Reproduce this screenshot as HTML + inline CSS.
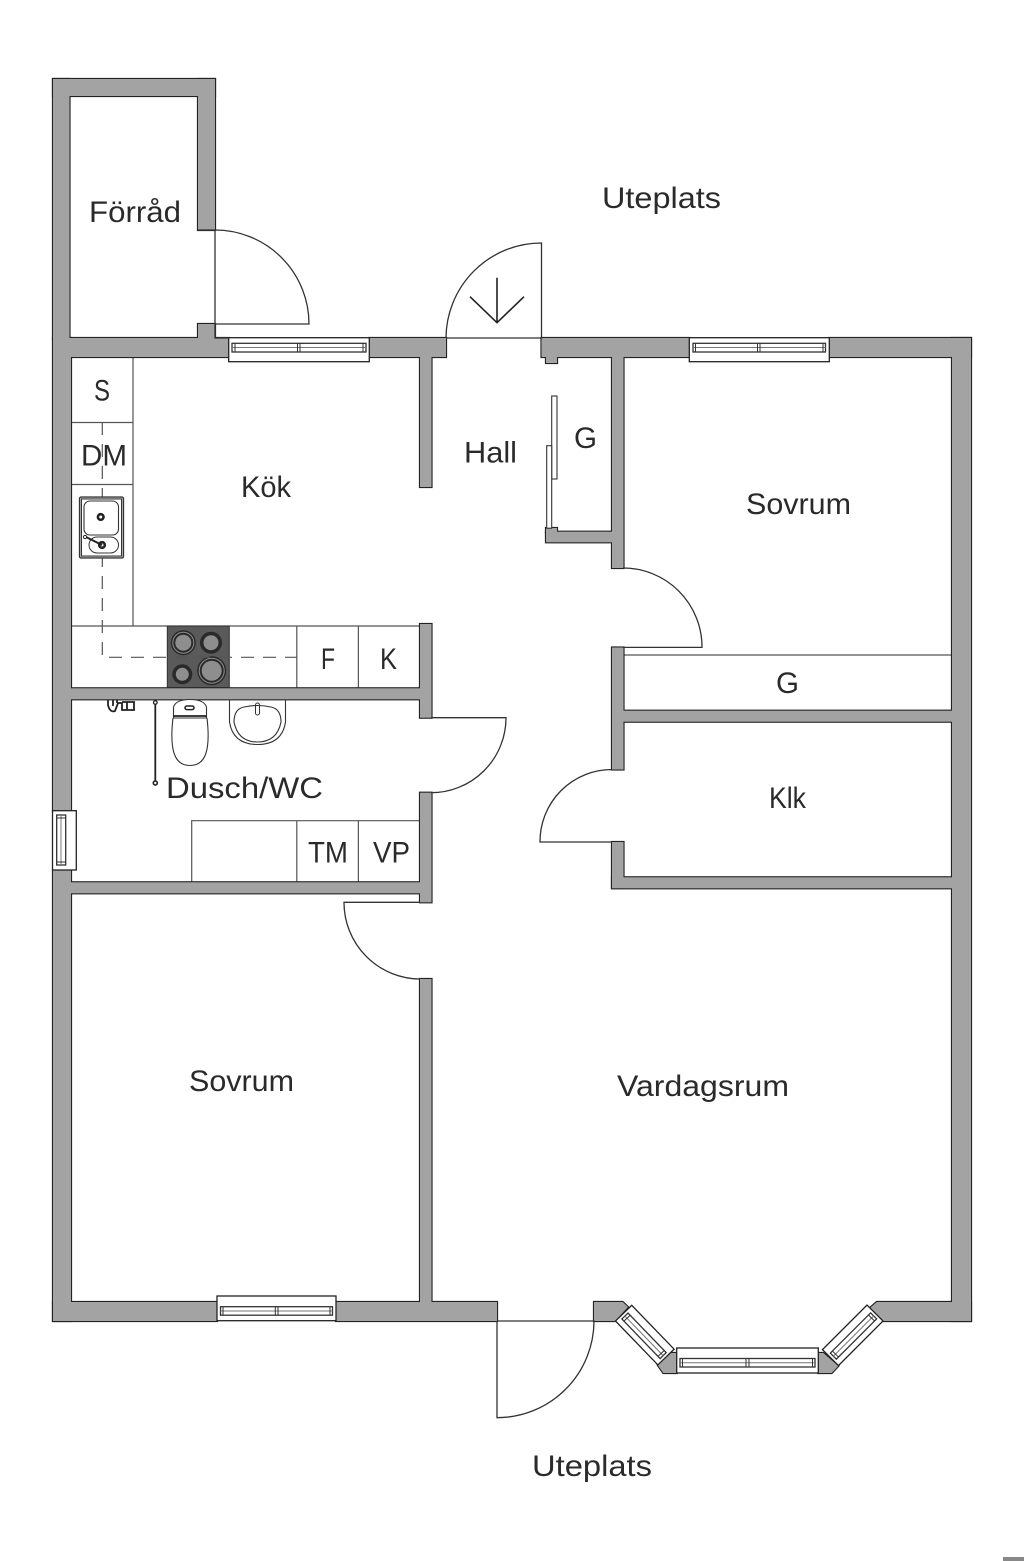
<!DOCTYPE html>
<html lang="sv">
<head>
<meta charset="utf-8">
<title>Planritning</title>
<style>
html,body{margin:0;padding:0;background:#fff;}
svg{display:block;}
text{font-family:"Liberation Sans",sans-serif;font-size:30px;fill:#2a2a2a;}
</style>
</head>
<body>
<svg xmlns="http://www.w3.org/2000/svg" width="1024" height="1561" viewBox="0 0 1024 1561">
<rect width="1024" height="1561" fill="#fff"/>
<rect x="1003" y="1557" width="21" height="4" fill="#888"/>

<!-- counters -->
<g fill="none" stroke="#555" stroke-width="1.2">
  <path d="M133 357V626M71 422.5H133M71 484.5H133M71 626H420M296.8 626V688M358.4 626V688"/>
  <path d="M191.7 882V820.7H420M296.8 820.7V882M358.4 820.7V882"/>
  <path d="M623 655H952"/>
</g>

<!-- hob -->
<rect x="167.3" y="626" width="62" height="62" fill="#5a5a5a" stroke="#333"/>
<g fill="#2a2a2a" stroke="none">
  <circle cx="183.3" cy="642.7" r="12.5"/>
  <circle cx="211" cy="642.7" r="11"/>
  <circle cx="182.3" cy="674.3" r="10"/>
  <circle cx="211.7" cy="670.7" r="14.5"/>
</g>
<g fill="none" stroke="#8e8e8e" stroke-width="1">
  <circle cx="183.3" cy="642.7" r="10.5"/>
  <circle cx="211.7" cy="670.7" r="12.5"/>
</g>
<g fill="#8e8e8e" stroke="none">
  <circle cx="183.3" cy="642.7" r="8"/>
  <circle cx="211" cy="642.7" r="7.5"/>
  <circle cx="182.3" cy="674.3" r="6.5"/>
  <circle cx="211.7" cy="670.7" r="10"/>
</g>
<path d="M102.3 422V657.3H297" fill="none" stroke="#555" stroke-width="1.2" stroke-dasharray="13 9"/>

<!-- walls: outline layer -->
<g fill="#a3a3a3" stroke="#222" stroke-width="2.2" stroke-linejoin="miter">
  <rect x="53" y="79" width="16.5" height="260"/>
  <rect x="53" y="79" width="162" height="17"/>
  <rect x="198" y="79" width="17" height="151"/>
  <rect x="198" y="324" width="17" height="14"/>
  <rect x="53" y="338" width="18" height="473"/>
  <rect x="53" y="870" width="18" height="451"/>
  <rect x="69" y="338" width="160" height="19"/>
  <rect x="369" y="338" width="77" height="19"/>
  <rect x="420" y="357" width="11.5" height="130"/>
  <rect x="541.5" y="338" width="148" height="19"/>
  <rect x="546" y="357" width="11" height="6"/>
  <rect x="829" y="338" width="142" height="19"/>
  <rect x="952" y="338" width="19" height="983"/>
  <rect x="612" y="357" width="11.5" height="211"/>
  <rect x="546" y="531.7" width="66" height="10.6"/>
  <rect x="546" y="528" width="11" height="5"/>
  <rect x="612" y="647.5" width="11.5" height="122"/>
  <rect x="612" y="842" width="11.5" height="46"/>
  <rect x="623" y="710.7" width="329" height="11"/>
  <rect x="612" y="877.3" width="340" height="11"/>
  <rect x="71" y="688.3" width="349" height="11"/>
  <rect x="420" y="624" width="11.5" height="93.7"/>
  <rect x="420" y="792.7" width="11.5" height="109.6"/>
  <rect x="71" y="882.3" width="349" height="11"/>
  <rect x="420" y="979" width="11.5" height="323"/>
  <rect x="53" y="1302" width="164" height="19"/>
  <rect x="336" y="1302" width="161" height="19"/>
  <polygon points="594,1302 622.7,1302 628,1307 615,1321 594,1321"/>
  <polygon points="668,1353 676.7,1353 676.7,1373 663.3,1373 657.7,1365"/>
  <polygon points="818.3,1353 823.3,1353 838.3,1366 831.7,1373 818.3,1373"/>
  <polygon points="870,1308 876.7,1302 971,1302 971,1321 883.3,1321"/>
</g>
<!-- walls: fill layer to merge junctions -->
<g fill="#a3a3a3">
  <rect x="53" y="79" width="16.5" height="260"/>
  <rect x="53" y="79" width="162" height="17"/>
  <rect x="198" y="79" width="17" height="151"/>
  <rect x="198" y="324" width="17" height="14"/>
  <rect x="53" y="338" width="18" height="473"/>
  <rect x="53" y="870" width="18" height="451"/>
  <rect x="69" y="338" width="160" height="19"/>
  <rect x="369" y="338" width="77" height="19"/>
  <rect x="420" y="357" width="11.5" height="130"/>
  <rect x="541.5" y="338" width="148" height="19"/>
  <rect x="546" y="357" width="11" height="6"/>
  <rect x="829" y="338" width="142" height="19"/>
  <rect x="952" y="338" width="19" height="983"/>
  <rect x="612" y="357" width="11.5" height="211"/>
  <rect x="546" y="531.7" width="66" height="10.6"/>
  <rect x="546" y="528" width="11" height="5"/>
  <rect x="612" y="647.5" width="11.5" height="122"/>
  <rect x="612" y="842" width="11.5" height="46"/>
  <rect x="623" y="710.7" width="329" height="11"/>
  <rect x="612" y="877.3" width="340" height="11"/>
  <rect x="71" y="688.3" width="349" height="11"/>
  <rect x="420" y="624" width="11.5" height="93.7"/>
  <rect x="420" y="792.7" width="11.5" height="109.6"/>
  <rect x="71" y="882.3" width="349" height="11"/>
  <rect x="420" y="979" width="11.5" height="323"/>
  <rect x="53" y="1302" width="164" height="19"/>
  <rect x="336" y="1302" width="161" height="19"/>
  <polygon points="594,1302 622.7,1302 628,1307 615,1321 594,1321"/>
  <polygon points="668,1353 676.7,1353 676.7,1373 663.3,1373 657.7,1365"/>
  <polygon points="818.3,1353 823.3,1353 838.3,1366 831.7,1373 818.3,1373"/>
  <polygon points="870,1308 876.7,1302 971,1302 971,1321 883.3,1321"/>
</g>

<!-- windows -->
<g fill="#fff" stroke="#222" stroke-width="1.3">
  <!-- kitchen -->
  <rect x="228.7" y="337.7" width="140.6" height="24"/>
  <rect x="232" y="343.3" width="134" height="8.7" stroke="#333"/>
  <path d="M232 347.5H366" fill="none" stroke="#777" stroke-width="1"/>
  <path d="M297.5 343.3V352M300 343.3V352M235 343.3V352M363 343.3V352" fill="none" stroke="#333" stroke-width="1"/>
  <!-- bedroom NE -->
  <rect x="689.3" y="337.7" width="140" height="24"/>
  <rect x="693" y="343.3" width="132.5" height="8.7" stroke="#333"/>
  <path d="M693 347.5H825.5" fill="none" stroke="#777" stroke-width="1"/>
  <path d="M757.5 343.3V352M760 343.3V352M695.5 343.3V352M823 343.3V352" fill="none" stroke="#333" stroke-width="1"/>
  <!-- bedroom SW -->
  <rect x="217" y="1296" width="119" height="24.7"/>
  <rect x="220.5" y="1306.7" width="112" height="8.5" stroke="#333"/>
  <path d="M220.5 1311H332.5" fill="none" stroke="#777" stroke-width="1"/>
  <path d="M275.3 1306.7V1315.2M278 1306.7V1315.2M223 1306.7V1315.2M330 1306.7V1315.2" fill="none" stroke="#333" stroke-width="1"/>
  <!-- bath west -->
  <rect x="52.5" y="810.7" width="23.8" height="59.3"/>
  <rect x="56.7" y="815" width="9" height="50" stroke="#333"/>
  <path d="M61 815V865" fill="none" stroke="#777" stroke-width="1"/>
  <path d="M56.7 818H65.7M56.7 862H65.7" fill="none" stroke="#333" stroke-width="1"/>
  <!-- bay centre -->
  <rect x="676.7" y="1348" width="141.6" height="25"/>
  <rect x="680" y="1358.5" width="135" height="8.5" stroke="#333"/>
  <path d="M680 1362.7H815" fill="none" stroke="#777" stroke-width="1"/>
  <path d="M746 1358.5V1367M749 1358.5V1367M682.5 1358.5V1367M812.5 1358.5V1367" fill="none" stroke="#333" stroke-width="1"/>
  <!-- bay left -->
  <g transform="translate(615.5 1321) rotate(46)">
    <rect x="0" y="-22.6" width="61" height="22.6"/>
    <rect x="3" y="-14.5" width="55" height="8.5" stroke="#333"/>
    <path d="M3 -10.2H58" fill="none" stroke="#777" stroke-width="1"/>
    <path d="M6 -14.5V-6M55 -14.5V-6" fill="none" stroke="#333" stroke-width="1"/>
  </g>
  <!-- bay right -->
  <g transform="translate(883 1321) rotate(135)">
    <rect x="0" y="0" width="63" height="22.6"/>
    <rect x="3" y="6" width="57" height="8.5" stroke="#333"/>
    <path d="M3 10.2H60" fill="none" stroke="#777" stroke-width="1"/>
    <path d="M6 6V14.5M57 6V14.5" fill="none" stroke="#333" stroke-width="1"/>
  </g>
</g>

<!-- doors -->
<g fill="none" stroke="#333" stroke-width="1.3">
  <path d="M198 230H215A94 94 0 0 1 309 324H215M215 230V338H229"/>
  <path d="M446 338A95.5 95.5 0 0 1 541.5 243V338H446"/>
  <path d="M623 568A79 79 0 0 1 702 647.4H623"/>
  <path d="M612 769.5A72 72 0 0 0 540 842H612"/>
  <path d="M431 792.7A75 75 0 0 0 506 717.7H431"/>
  <path d="M420 979A76.5 76.5 0 0 1 344 902.3H420"/>
  <path d="M497 1321V1417.7A97 97 0 0 0 594 1321H497"/>
</g>
<path d="M497 277.7V322.7M470 296.7L497 322.7L524 296.7" fill="none" stroke="#222" stroke-width="1.6"/>

<!-- sliding closet doors -->
<g fill="#fff" stroke="#333" stroke-width="1.1">
  <rect x="551.7" y="396" width="5.3" height="83"/>
  <rect x="546.7" y="445.7" width="5" height="82.5"/>
</g>

<!-- kitchen sink -->
<g fill="none" stroke="#333">
  <rect x="79.5" y="497" width="44" height="61" rx="1.5" fill="#bdbdbd" stroke-width="1.3"/>
  <rect x="81.5" y="499" width="40" height="57" fill="#fff" stroke-width="1"/>
  <rect x="84" y="501" width="34.5" height="34" rx="6" stroke-width="1.1"/>
  <rect x="89" y="537" width="29.5" height="16" rx="8" stroke-width="1"/>
  <circle cx="100.7" cy="517" r="2.8" stroke="#222" stroke-width="2.6"/>
  <circle cx="102" cy="545" r="2.8" stroke="#222" stroke-width="2.6"/>
  <path d="M86 537L102 545" stroke="#222" stroke-width="2"/>
  <circle cx="85" cy="537" r="1.6" fill="#fff" stroke="#222" stroke-width="1"/>
</g>

<!-- bathroom fixtures -->
<g fill="none" stroke="#333" stroke-width="1.1">
  <path d="M173.5 718V707Q176 699.5 190 699.5Q204 699.5 206.5 707V718Z" fill="#fff"/>
  <path d="M173.5 716H206.5" stroke="#222" stroke-width="1.8"/>
  <path d="M173 718Q171 735 172.5 746Q175 765.5 190 765.5Q205 765.5 207.5 746Q209 735 207 718"/>
  <rect x="185" y="706" width="9" height="3.6" rx="1.8" stroke="#222" stroke-width="1.5"/>
  <path d="M229.5 699.5V722Q233 744.5 257.5 744.5Q282 744.5 285.5 722V699.5"/>
  <path d="M234 722Q234 709 244 707Q257 704 271 707Q281 709 281 722Q277 742 257.5 742Q238 742 234 722Z"/>
  <rect x="255.5" y="703" width="4" height="12" rx="2" stroke-width="1"/>
</g>
<path d="M155.3 704V782" stroke="#222" stroke-width="1.8"/>
<circle cx="155.3" cy="702.5" r="1.8" fill="#fff" stroke="#222" stroke-width="1.3"/>
<circle cx="155.3" cy="783" r="2" fill="#fff" stroke="#222" stroke-width="1.6"/>
<g fill="none" stroke="#222" stroke-width="1.8">
  <path d="M108 700V705Q110 713 115 711L118 703H122V710H134V702H122"/>
  <path d="M113 700V706M117 700V703M127 702V710"/>
</g>

<!-- labels -->
<text x="89" y="222" textLength="92" lengthAdjust="spacingAndGlyphs">Förråd</text>
<text x="602" y="208" textLength="119" lengthAdjust="spacingAndGlyphs">Uteplats</text>
<text x="94" y="400.5" textLength="16" lengthAdjust="spacingAndGlyphs">S</text>
<text x="81" y="465.5" textLength="46" lengthAdjust="spacingAndGlyphs">DM</text>
<text x="241" y="497" textLength="50" lengthAdjust="spacingAndGlyphs">Kök</text>
<text x="464" y="462.5" textLength="53" lengthAdjust="spacingAndGlyphs">Hall</text>
<text x="574" y="448" textLength="23" lengthAdjust="spacingAndGlyphs">G</text>
<text x="746" y="514" textLength="105" lengthAdjust="spacingAndGlyphs">Sovrum</text>
<text x="776" y="693" textLength="23" lengthAdjust="spacingAndGlyphs">G</text>
<text x="769" y="808" textLength="37" lengthAdjust="spacingAndGlyphs">Klk</text>
<text x="321" y="669" textLength="14" lengthAdjust="spacingAndGlyphs">F</text>
<text x="380" y="669" textLength="17" lengthAdjust="spacingAndGlyphs">K</text>
<text x="166" y="798" textLength="157" lengthAdjust="spacingAndGlyphs">Dusch/WC</text>
<text x="308" y="862.5" textLength="40" lengthAdjust="spacingAndGlyphs">TM</text>
<text x="373" y="862.5" textLength="37" lengthAdjust="spacingAndGlyphs">VP</text>
<text x="189" y="1091" textLength="105" lengthAdjust="spacingAndGlyphs">Sovrum</text>
<text x="617" y="1096" textLength="172" lengthAdjust="spacingAndGlyphs">Vardagsrum</text>
<text x="532" y="1476" textLength="120" lengthAdjust="spacingAndGlyphs">Uteplats</text>
</svg>
</body>
</html>
